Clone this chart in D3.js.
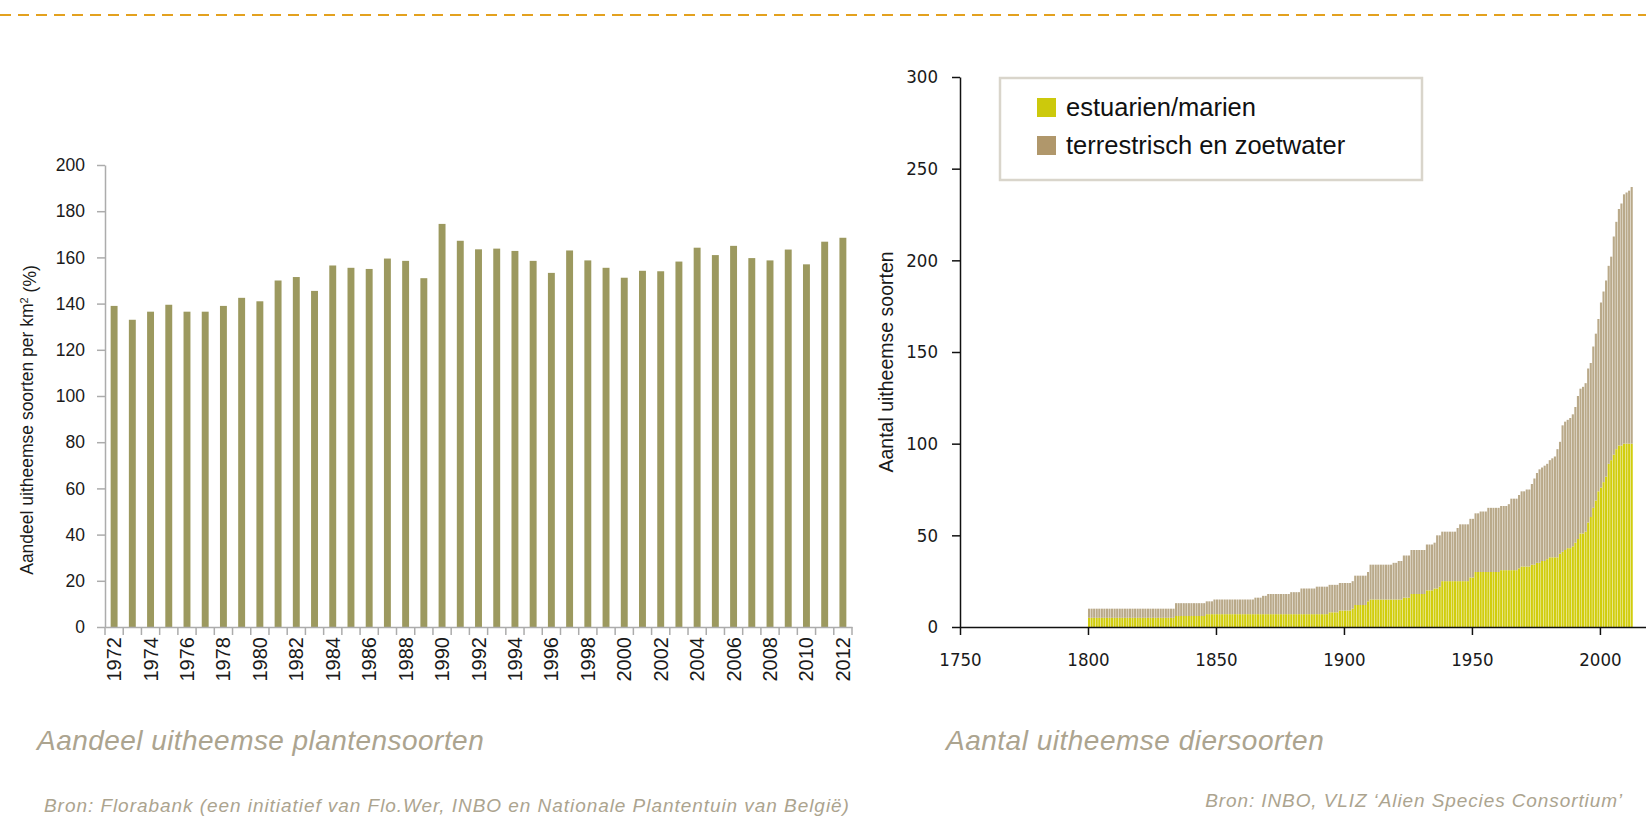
<!DOCTYPE html>
<html>
<head>
<meta charset="utf-8">
<script src="https://cdn.jsdelivr.net/npm/d3@7"></script>
<style>
    body { margin: 0; background: #fff; }
    svg { display: block; }
    .tick text { fill: #1a1a1a; }
</style>
</head>
<body>
<div id="chart"></div>
<script>
// ---- data: share of non-native plant species (left chart)
const plantYears = [1972, 1973, 1974, 1975, 1976, 1977, 1978, 1979, 1980, 1981,
    1982, 1983, 1984, 1985, 1986, 1987, 1988, 1989, 1990, 1991,
    1992, 1993, 1994, 1995, 1996, 1997, 1998, 1999, 2000, 2001,
    2002, 2003, 2004, 2005, 2006, 2007, 2008, 2009, 2010, 2011, 2012];
const plantValues = [139, 133, 136.5, 139.5, 136.5, 136.5, 139, 142.5, 141, 150,
    151.5, 145.5, 156.5, 155.5, 155, 159.5, 158.5, 151, 174.5, 167.2,
    163.5, 163.8, 162.8, 158.5, 153.3, 163, 158.7, 155.5, 151.2, 154.2,
    154, 158.2, 164.2, 161, 165, 159.7, 158.7, 163.4, 157, 166.8, 168.5];
const plantYTicks = [0, 20, 40, 60, 80, 100, 120, 140, 160, 180, 200];

// ---- data: number of non-native animal species, one value per year 1800..2012 (right chart)
const animalFirstYear = 1800;
const estuarien = [
    5, 5, 5, 5, 5, 5, 5, 5, 5, 5,          // 1800
    5, 5, 5, 5, 5, 5, 5, 5, 5, 5,          // 1810
    5, 5, 5, 5, 5, 5, 5, 5, 5, 5,          // 1820
    5, 5, 5, 5, 6, 6, 6, 6, 6, 6,          // 1830
    6, 6, 6, 6, 6, 6, 7, 7, 7, 7,          // 1840
    7, 7, 7, 7, 7, 7, 7, 7, 7, 7,          // 1850
    7, 7, 7, 7, 7, 7, 7, 7, 7, 7,          // 1860
    7, 7, 7, 7, 7, 7, 7, 7, 7, 7,          // 1870
    7, 7, 7, 7, 7, 7, 7, 7, 7, 7,          // 1880
    7, 7, 7, 7, 8, 8, 8, 8, 9, 9,          // 1890
    9, 9, 9, 10, 12, 12, 12, 12, 12, 14,   // 1900
    15, 15, 15, 15, 15, 15, 15, 15, 15, 15, // 1910
    15, 15, 15, 16, 16, 16, 18, 18, 18, 18, // 1920
    18, 18, 20, 20, 20, 21, 21, 22, 25, 25, // 1930
    25, 25, 25, 25, 25, 25, 25, 25, 25, 27, // 1940
    27, 30, 30, 30, 30, 30, 30, 30, 30, 30, // 1950
    30, 31, 31, 31, 31, 31, 31, 31, 32, 33, // 1960
    33, 33, 33, 34, 34, 35, 35, 36, 36, 37, // 1970
    38, 38, 38, 38, 40, 41, 42, 43, 43, 44, // 1980
    46, 48, 51, 51, 52, 57, 60, 65, 69, 74, // 1990
    76, 79, 82, 89, 91, 94, 97, 99, 99, 100, // 2000
    100, 100, 100                          // 2010
];
const terrestrisch = [
    5, 5, 5, 5, 5, 5, 5, 5, 5, 5,          // 1800
    5, 5, 5, 5, 5, 5, 5, 5, 5, 5,          // 1810
    5, 5, 5, 5, 5, 5, 5, 5, 5, 5,          // 1820
    5, 5, 5, 5, 7, 7, 7, 7, 7, 7,          // 1830
    7, 7, 7, 7, 7, 7, 7, 7, 7, 8,          // 1840
    8, 8, 8, 8, 8, 8, 8, 8, 8, 8,          // 1850
    8, 8, 8, 8, 8, 9, 9, 9, 10, 10,        // 1860
    11, 11, 11, 11, 11, 11, 11, 11, 11, 12, // 1870
    12, 12, 12, 14, 14, 14, 14, 14, 14, 15, // 1880
    15, 15, 15, 15, 15, 15, 15, 15, 15, 15, // 1890
    15, 15, 15, 15, 16, 16, 16, 16, 16, 16, // 1900
    19, 19, 19, 19, 19, 19, 19, 19, 19, 20, // 1910
    20, 21, 21, 23, 23, 23, 24, 24, 24, 24, // 1920
    24, 24, 25, 25, 25, 25, 29, 28, 27, 27, // 1930
    27, 27, 27, 27, 29, 31, 31, 31, 31, 32, // 1940
    32, 32, 32, 33, 33, 33, 35, 35, 35, 35, // 1950
    35, 35, 35, 35, 36, 39, 39, 39, 40, 41, // 1960
    41, 42, 42, 44, 47, 49, 51, 51, 52, 52, // 1970
    53, 54, 55, 59, 61, 69, 70, 70, 71, 72, // 1980
    74, 78, 79, 80, 81, 84, 84, 88, 91, 94, // 1990
    101, 104, 107, 108, 111, 119, 124, 129, 132, 136, // 2000
    137, 138, 140                          // 2010
];
const animalYTicks = [0, 50, 100, 150, 200, 250, 300];
const animalXTicks = [1750, 1800, 1850, 1900, 1950, 2000];
const seriesNames = ["estuarien/marien", "terrestrisch en zoetwater"];

const width = 1646, height = 830;
const sansFont = '"Liberation Sans", Arial, Helvetica, sans-serif';
const narrowFont = '"Liberation Sans Narrow", "Arial Narrow", "DejaVu Sans Condensed", "Liberation Sans", sans-serif';
const titleColor = "#aca48f";

const svg = d3.select("#chart").append("svg")
    .attr("width", width)
    .attr("height", height);

svg.append("rect").attr("width", width).attr("height", height).attr("fill", "#fff");

// dashed rule at the top
svg.append("line")
    .attr("x1", 0).attr("x2", width)
    .attr("y1", 15).attr("y2", 15)
    .attr("stroke", "#e3a11f")
    .attr("stroke-width", 2)
    .attr("stroke-dasharray", "11,7");

/* ---------------- left chart ---------------- */
const yL = d3.scaleLinear().domain([0, 200]).range([627, 165]);
const xL = d3.scaleBand().domain(plantYears).range([105, 852])
    .paddingInner(0.62).paddingOuter(0.31);

const left = svg.append("g");

left.selectAll("rect.plant")
    .data(plantYears).enter()
    .append("rect")
    .attr("class", "plant")
    .attr("x", d => xL(d))
    .attr("width", xL.bandwidth())
    .attr("y", (d, i) => yL(plantValues[i]))
    .attr("height", (d, i) => yL(0) - yL(plantValues[i]))
    .attr("fill", "#9c995f");

const yAxisL = left.append("g")
    .attr("transform", "translate(105,0)")
    .call(d3.axisLeft(yL).tickValues(plantYTicks).tickSize(8).tickSizeOuter(0).tickPadding(12));
yAxisL.selectAll("path, line").attr("stroke", "#acacac").attr("stroke-width", 1.5);
yAxisL.selectAll("text").style("font-family", sansFont).style("font-size", "17.5px");

// x axis: line, ticks between bars, rotated labels on even years
const xAxisL = left.append("g")
    .attr("transform", "translate(0,627)")
    .call(d3.axisBottom(xL).tickValues(plantYears.filter(y => y % 2 === 0)).tickSize(0).tickSizeOuter(0));
xAxisL.select(".domain").attr("stroke", "#acacac").attr("stroke-width", 1.5);
xAxisL.selectAll("text")
    .attr("transform", "rotate(-90)")
    .attr("x", -10).attr("y", 0).attr("dy", "0.35em")
    .style("text-anchor", "end")
    .style("font-family", sansFont).style("font-size", "20px");

const boundaries = d3.range(plantYears.length + 1).map(i => xL.range()[0] + i * xL.step());
xAxisL.selectAll("line.sep")
    .data(boundaries).enter()
    .append("line")
    .attr("class", "sep")
    .attr("x1", d => d).attr("x2", d => d)
    .attr("y1", 0).attr("y2", 8)
    .attr("stroke", "#acacac").attr("stroke-width", 1.5);

left.append("text")
    .attr("transform", "translate(33,420) rotate(-90)")
    .attr("text-anchor", "middle")
    .style("font-family", sansFont).style("font-size", "17.5px")
    .attr("fill", "#1a1a1a")
    .text("Aandeel uitheemse soorten per km")
    .append("tspan").attr("dy", "-0.45em").style("font-size", "11px").text("2")
    .select(function() { return this.parentNode; })
    .append("tspan").attr("dy", "0.45em").text(" (%)");

/* ---------------- right chart ---------------- */
const xR = d3.scaleLinear().domain([1750, 2018]).range([960, 1646]);
const yR = d3.scaleLinear().domain([0, 300]).range([627, 77]);

const rows = estuarien.map((e, i) => ({
    year: animalFirstYear + i,
    estuarien: e,
    terrestrisch: terrestrisch[i]
}));
const stacked = d3.stack().keys(["estuarien", "terrestrisch"])(rows);
const colors = {estuarien: "#d1cd0c", terrestrisch: "#b9a989"};

const right = svg.append("g");

right.selectAll("g.layer")
    .data(stacked).enter()
    .append("g")
    .attr("class", "layer")
    .attr("fill", d => colors[d.key])
    .selectAll("rect")
    .data(d => d).enter()
    .append("rect")
    .attr("x", d => xR(d.data.year))
    .attr("width", d => xR(d.data.year + 1) - xR(d.data.year) - 0.45)
    .attr("y", d => yR(d[1]))
    .attr("height", d => yR(d[0]) - yR(d[1]));

const yAxisR = right.append("g")
    .attr("transform", "translate(960,0)")
    .call(d3.axisLeft(yR).tickValues(animalYTicks).tickSize(8).tickSizeOuter(0).tickPadding(14));
yAxisR.selectAll("path, line").attr("stroke", "#111").attr("stroke-width", 1.5);
yAxisR.selectAll("text").style("font-family", narrowFont).style("font-size", "18.5px");

const xAxisR = right.append("g")
    .attr("transform", "translate(0,627)")
    .call(d3.axisBottom(xR).tickValues(animalXTicks).tickFormat(d3.format("d"))
        .tickSize(8).tickSizeOuter(0).tickPadding(18));
xAxisR.selectAll("path, line").attr("stroke", "#111").attr("stroke-width", 1.5);
xAxisR.selectAll("text").style("font-family", narrowFont).style("font-size", "18.5px");

right.append("text")
    .attr("transform", "translate(893,362) rotate(-90)")
    .attr("text-anchor", "middle")
    .style("font-family", sansFont).style("font-size", "19.5px")
    .attr("fill", "#1a1a1a")
    .text("Aantal uitheemse soorten");

// legend
const legend = right.append("g");
legend.append("rect")
    .attr("x", 1000).attr("y", 78).attr("width", 422).attr("height", 102)
    .attr("fill", "#fff").attr("stroke", "#d9d5cb").attr("stroke-width", 2.5);
const legendItems = legend.selectAll("g.item")
    .data(["estuarien", "terrestrisch"]).enter()
    .append("g").attr("class", "item")
    .attr("transform", (d, i) => "translate(1037," + (98 + i * 38) + ")");
legendItems.append("rect")
    .attr("width", 19).attr("height", 19)
    .attr("fill", d => d === "estuarien" ? "#ccc90c" : "#b0976b");
legendItems.append("text")
    .attr("x", 29).attr("y", 18)
    .style("font-family", sansFont).style("font-size", "25.5px")
    .attr("fill", "#111")
    .text((d, i) => seriesNames[i]);

/* ---------------- captions ---------------- */
const captions = [
    {text: "Aandeel uitheemse plantensoorten", x: 37, y: 750, size: 28, spacing: 0.45, anchor: "start"},
    {text: "Aantal uitheemse diersoorten", x: 946, y: 750, size: 28, spacing: 0.5, anchor: "start"},
    {text: "Bron: Florabank (een initiatief van Flo.Wer, INBO en Nationale Plantentuin van België)", x: 44, y: 812, size: 19, spacing: 0.95, anchor: "start"},
    {text: "Bron: INBO, VLIZ ‘Alien Species Consortium’", x: 1623, y: 807, size: 19, spacing: 0.9, anchor: "end"}
];
svg.selectAll("text.caption")
    .data(captions).enter()
    .append("text")
    .attr("class", "caption")
    .attr("x", d => d.x).attr("y", d => d.y)
    .attr("text-anchor", d => d.anchor)
    .style("font-family", sansFont)
    .style("font-style", "italic")
    .style("font-weight", 300)
    .style("font-size", d => d.size + "px")
    .style("letter-spacing", d => d.spacing + "px")
    .attr("fill", titleColor)
    .text(d => d.text);
</script>
</body>
</html>
